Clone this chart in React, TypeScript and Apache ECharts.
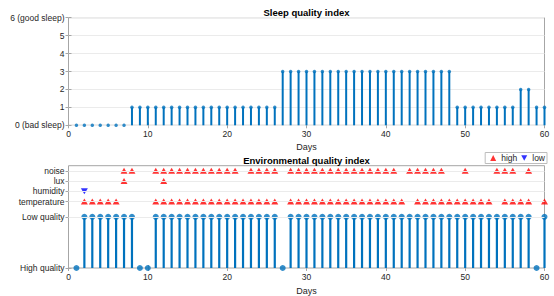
import React, { useEffect, useRef } from 'react';
import * as echarts from 'echarts';

// Sleep quality index per day (days 1..60)
const sleepQuality = [
  0, 0, 0, 0, 0, 0, 0,
  1, 1, 1, 1, 1, 1, 1, 1, 1, 1, 1, 1, 1, 1, 1, 1, 1, 1, 1,
  3, 3, 3, 3, 3, 3, 3, 3, 3, 3, 3, 3, 3, 3, 3, 3, 3, 3, 3, 3, 3, 3,
  1, 1, 1, 1, 1, 1, 1, 1,
  2, 2,
  1, 1,
];

// Environmental quality per day: 0 = High quality, 1 = Low quality
const envQuality = [
  0,
  1, 1, 1, 1, 1, 1, 1,
  0, 0,
  1, 1, 1, 1, 1, 1, 1, 1, 1, 1, 1, 1, 1, 1, 1, 1,
  0,
  1, 1, 1, 1, 1, 1, 1, 1, 1, 1, 1, 1, 1, 1, 1, 1, 1, 1, 1, 1, 1, 1, 1, 1, 1, 1, 1, 1, 1, 1, 1,
  0,
  1,
];

const temperatureHighDays = [2, 3, 4, 5, 6, 11, 12, 13, 14, 15, 16, 17, 18, 19, 20, 21, 22, 23, 24, 25, 26,
  28, 29, 30, 31, 32, 33, 34, 35, 36, 37, 38, 39, 40, 41, 42, 44, 45, 46, 47, 48, 49, 50, 51, 52, 53,
  55, 56, 57, 58, 60];
const humidityLowDays = [2];
const luxHighDays = [7, 12];
const noiseHighDays = [7, 8, 11, 12, 13, 14, 15, 16, 17, 18, 19, 20, 21, 23, 24, 25, 26,
  28, 29, 30, 31, 32, 33, 34, 35, 36, 37, 38, 39, 40, 41, 43, 44, 45, 46, 47, 50, 54, 55, 56, 58];

const envYTicks = [0, 1, 1.3, 1.5, 1.7, 1.9];
const envYLabels = ['High quality', 'Low quality', 'temperature', 'humidity', 'lux', 'noise'];
const sleepYLabels: Record<number, string> = { 0: '0 (bad sleep)', 6: '6 (good sleep)' };

const FONT = 'Liberation Sans, Arial, sans-serif';
const TXT = '#262626';
const AX = '#a6a6a6';
const BLUE = '#0072BD';

export default function App() {
  const ref = useRef<HTMLDivElement>(null);
  useEffect(() => {
    if (!ref.current) return;
    const chart = echarts.init(ref.current, undefined, { renderer: 'svg' });
    const lvl = (name: string) => envYTicks[envYLabels.indexOf(name)];
    const highPts = [
      ...temperatureHighDays.map((d) => [d, lvl('temperature')]),
      ...luxHighDays.map((d) => [d, lvl('lux')]),
      ...noiseHighDays.map((d) => [d, lvl('noise')]),
    ];
    const lowPts = humidityLowDays.map((d) => [d, lvl('humidity')]);
    const sleepData = sleepQuality.map((v, i) => [i + 1, v]);
    const envData = envQuality.map((v, i) => [i + 1, v]);

    const gridL = 68.5;
    const gridR = 554 - 544.5;
    const labelStyle = { color: TXT, fontSize: 8.5, fontFamily: FONT };
    const xBase = (gridIndex: number) => ({
      type: 'value', gridIndex, min: 0, max: 60, interval: 10,
      axisLine: { show: false },
      axisTick: { show: true, inside: true, length: 3, lineStyle: { color: AX } },
      splitLine: { show: false },
    });
    const findLabel = (v: number) => {
      for (let i = 0; i < envYTicks.length; i++) if (Math.abs(envYTicks[i] - v) < 1e-6) return envYLabels[i];
      return '';
    };

    const option: any = {
      animation: false,
      textStyle: { fontFamily: FONT },
      title: [
        { text: 'Sleep quality index', left: (gridL + 544.5) / 2, top: 7, textAlign: 'center', padding: 0,
          textStyle: { fontSize: 9.5, fontWeight: 'bold', color: '#000', fontFamily: FONT } },
        { text: 'Environmental quality index', left: (gridL + 544.5) / 2, top: 155, textAlign: 'center', padding: 0,
          textStyle: { fontSize: 9.5, fontWeight: 'bold', color: '#000', fontFamily: FONT } },
      ],
      legend: {
        data: ['high', 'low'], right: 7, top: 152.5, orient: 'horizontal',
        borderColor: '#bdbdbd', borderWidth: 1, padding: [1, 2, 1, 5], itemGap: 4,
        itemWidth: 6, itemHeight: 6, backgroundColor: '#fff',
        textStyle: { fontSize: 8.5, color: TXT, fontFamily: FONT },
      },
      grid: [
        { left: gridL, right: gridR, top: 17.7, height: 107.6, show: true, borderColor: AX, borderWidth: 1, backgroundColor: 'transparent' },
        { left: gridL, right: gridR, top: 165.7, height: 107, show: true, borderColor: AX, borderWidth: 1, backgroundColor: 'transparent' },
      ],
      xAxis: [
        { ...xBase(0), position: 'bottom', name: 'Days', nameLocation: 'middle', nameGap: 17,
          nameTextStyle: { ...labelStyle, fontSize: 9 }, axisLabel: { ...labelStyle, margin: 4 } },
        { ...xBase(0), position: 'top', axisLabel: { show: false } },
        { ...xBase(1), position: 'bottom', name: 'Days', nameLocation: 'middle', nameGap: 18,
          nameTextStyle: { ...labelStyle, fontSize: 9 }, axisLabel: { ...labelStyle, margin: 4 } },
        { ...xBase(1), position: 'top', axisLabel: { show: false } },
      ],
      yAxis: [
        { type: 'value', gridIndex: 0, min: 0, max: 6, interval: 1, position: 'left',
          axisLine: { show: false },
          axisTick: { show: true, inside: true, length: 3, lineStyle: { color: AX } },
          splitLine: { show: true, lineStyle: { color: '#ebebeb', width: 1 } },
          axisLabel: { ...labelStyle, margin: 4, formatter: (v: number) => sleepYLabels[v] ?? String(v) } },
        { type: 'value', gridIndex: 0, min: 0, max: 6, interval: 1, position: 'right',
          axisLine: { show: false },
          axisTick: { show: true, inside: true, length: 3, lineStyle: { color: AX } },
          splitLine: { show: false }, axisLabel: { show: false } },
        { type: 'value', gridIndex: 1, min: 0, max: 2, position: 'left',
          axisLine: { show: false },
          axisTick: { show: true, inside: true, length: 3, customValues: envYTicks, lineStyle: { color: AX } },
          splitLine: { show: false },
          axisLabel: { ...labelStyle, margin: 4, customValues: envYTicks, formatter: (v: number) => findLabel(v) } },
        { type: 'value', gridIndex: 1, min: 0, max: 2, position: 'right',
          axisLine: { show: false },
          axisTick: { show: true, inside: true, length: 3, customValues: envYTicks, lineStyle: { color: AX } },
          splitLine: { show: false },
          axisLabel: { show: false, customValues: envYTicks } },
      ],
      series: [
        { type: 'bar', name: 'sleep', xAxisIndex: 0, yAxisIndex: 0, data: sleepData, barWidth: 2,
          itemStyle: { color: BLUE }, silent: true },
        { type: 'scatter', name: 'sleepDot', xAxisIndex: 0, yAxisIndex: 0, data: sleepData, symbol: 'circle',
          symbolSize: 3.5, itemStyle: { color: BLUE }, clip: false, silent: true },
        { type: 'line', name: 'envGrid', xAxisIndex: 2, yAxisIndex: 2, data: [], z: 1, silent: true,
          markLine: { silent: true, symbol: ['none', 'none'], label: { show: false },
            lineStyle: { color: '#ebebeb', type: 'solid', width: 1 },
            data: envYTicks.slice(1).map((v) => ({ yAxis: v })) } },
        { type: 'bar', name: 'env', xAxisIndex: 2, yAxisIndex: 2, data: envData, barWidth: 2.2,
          itemStyle: { color: BLUE }, silent: true, z: 2 },
        { type: 'scatter', name: 'envDot', xAxisIndex: 2, yAxisIndex: 2, data: envData, symbol: 'circle',
          symbolSize: 6, itemStyle: { color: BLUE }, clip: false, silent: true, z: 3 },
        { type: 'scatter', name: 'high', xAxisIndex: 2, yAxisIndex: 2, data: highPts, symbol: 'triangle',
          symbolSize: [7, 6], itemStyle: { color: '#ff0000' }, clip: false, silent: true, z: 4 },
        { type: 'scatter', name: 'low', xAxisIndex: 2, yAxisIndex: 2, data: lowPts,
          symbol: 'path://M0,0 L10,0 L5,9 Z', symbolSize: [7, 6], itemStyle: { color: '#0000ff' },
          clip: false, silent: true, z: 4 },
      ],
    };
    chart.setOption(option);
    return () => chart.dispose();
  }, []);
  return <div ref={ref} style={{ position: 'fixed', left: 0, top: 0, width: 554, height: 296, background: '#fff' }} />;
}
